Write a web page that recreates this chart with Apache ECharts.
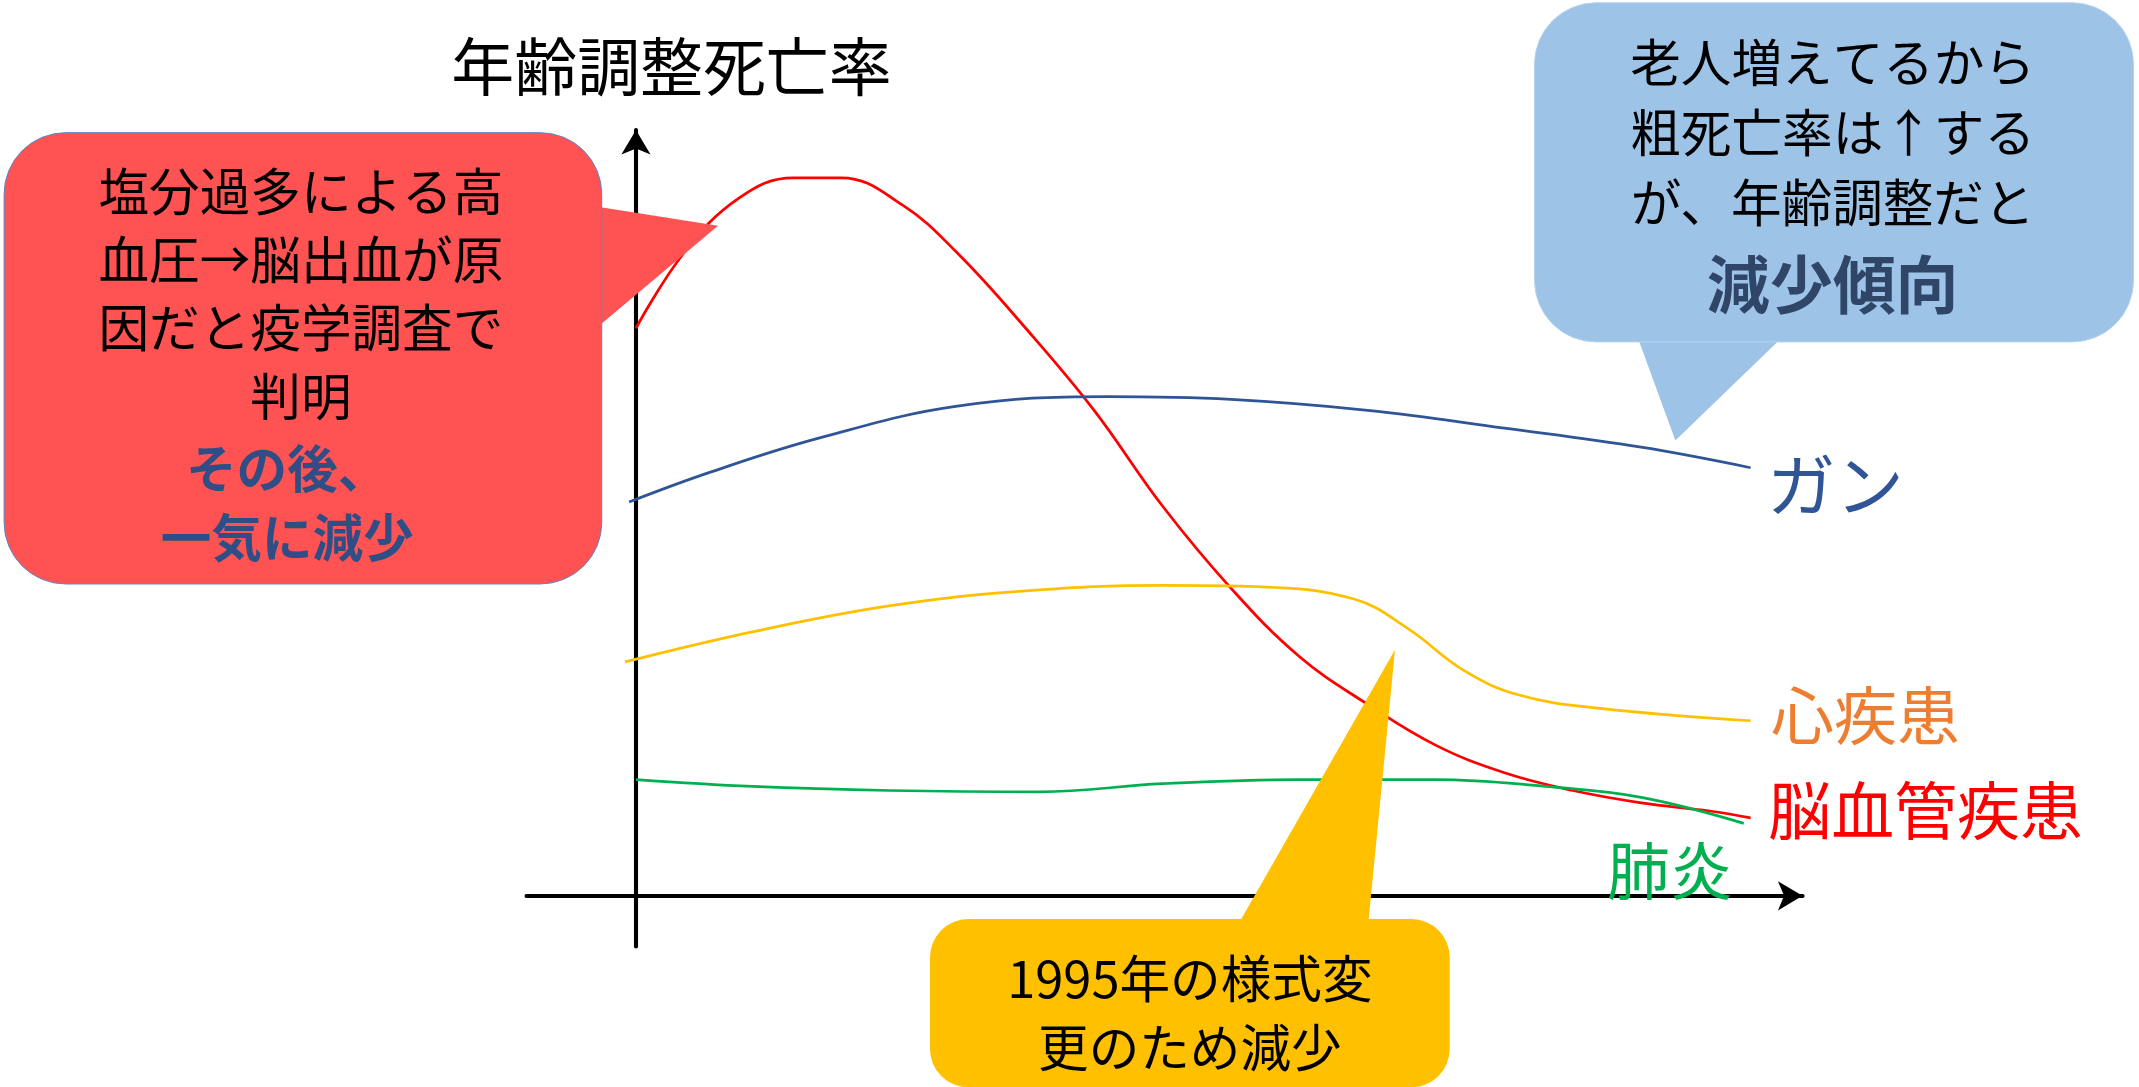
<!DOCTYPE html>
<html><head><meta charset="utf-8">
<script src="https://cdn.jsdelivr.net/npm/echarts@6/dist/echarts.min.js"></script>
<style>html,body{margin:0;padding:0;background:#fff}#c{width:2139px;height:1087px}</style>
</head><body><div id="c"></div>
<script>
// values: [x, y] in chart units (x: time from y-axis, y: rate from x-axis)
const cerebro = [[0,415],[35,470],[75,510],[115,525],[150,525],[195,505],[235,470],[285,415],[335,355],[385,285],[435,225],[485,175],[535,140],[585,110],[635,90],[685,77],[735,68],[785,62],[815,57]];
const cancer = [[-5,288],[55,310],[135,335],[235,358],[345,365],[435,363],[535,355],[635,342],[735,328],[815,313]];
const heart = [[-8,171],[85,193],[185,212],[285,223],[385,227],[455,226],[525,217],[565,195],[605,165],[645,147],[705,137],[815,128]];
const pneumonia = [[0,85],[85,80],[185,77],[295,76],[385,82],[485,85],[585,85],[665,80],[735,72],[810,53]];
const seriesNames = ['脳血管疾患','ガン','心疾患','肺炎'];
const yTitle = '年齢調整死亡率';
const redNote = ['塩分過多による高','血圧→脳出血が原','因だと疫学調査で','判明'];
const redNoteBold = ['その後、','一気に減少'];
const blueNote = ['老人増えてるから','粗死亡率は↑する','が、年齢調整だと'];
const blueNoteBold = '減少傾向';
const yellowNote = ['1995年の様式変','更のため減少'];

const K = 2139/1564;
const S = v => v*K;
const FF = '"Noto Sans CJK JP", "Noto Sans", sans-serif';
const chart = echarts.init(document.getElementById('c'));
function txt(x,y,t,size,color,weight,align){return {type:'text',z:20,style:{x:S(x),y:S(y),text:t,font:(weight||'normal')+' '+S(size)+'px '+FF,fill:color,textAlign:align||'center',textVerticalAlign:'middle'}};}
const g = [];
// red callout
g.push({type:'polygon',z:10,shape:{points:[[S(430),S(150)],[S(525),S(165)],[S(430),S(245)]]},style:{fill:'#FF5353'}});
g.push({type:'rect',z:10,shape:{x:S(3),y:S(97),width:S(437),height:S(330),r:S(45)},style:{fill:'#FF5353',stroke:'#5b86c5',lineWidth:1}});
redNote.forEach((t,i)=>g.push(txt(220,140+i*50,t,37,'#000')));
redNoteBold.forEach((t,i)=>g.push(txt(210,343+i*50,t,37,'#2F4E86','bold')));
// blue callout
g.push({type:'polygon',z:10,shape:{points:[[S(1195),S(240)],[S(1225),S(322)],[S(1310),S(240)]]},style:{fill:'#9DC3E6'}});
g.push({type:'rect',z:10,shape:{x:S(1122),y:S(2),width:S(438),height:S(248),r:S(45)},style:{fill:'#9DC3E6',stroke:'#b7d2ee',lineWidth:1}});
blueNote.forEach((t,i)=>g.push(txt(1340,46+i*51,t,37,'#000')));
g.push(txt(1340,208,blueNoteBold,46,'#2F4668','bold'));
// yellow callout
g.push({type:'polygon',z:10,shape:{points:[[S(903),S(680)],[S(1020),S(475)],[S(1000),S(680)]]},style:{fill:'#FFC000'}});
g.push({type:'rect',z:10,shape:{x:S(680),y:S(672),width:S(380),height:S(123),r:S(28)},style:{fill:'#FFC000'}});
yellowNote.forEach((t,i)=>g.push(txt(870,716+i*50,t,37,'#000')));
// title and series labels
g.push(txt(330,48,yTitle,46,'#000','normal','left'));
g.push(txt(1292,355,seriesNames[1],50,'#2F5597','normal','left'));
g.push(txt(1295,523,seriesNames[2],46,'#ED7D31','normal','left'));
g.push(txt(1293,592,seriesNames[0],46,'#FF0000','normal','left'));
g.push(txt(1175,636,seriesNames[3],46,'#00B050','normal','left'));

function ser(name,data,color){return {name,type:'line',data,smooth:0.4,symbol:'none',z:5,lineStyle:{color,width:S(2)}};}
chart.setOption({
  animation:false,
  grid:{left:S(385),right:2139-S(1318),top:S(95),bottom:1087-S(692)},
  xAxis:{type:'value',min:-80,max:853,axisLine:{onZero:true,lineStyle:{color:'#000',width:S(3)},symbol:['none','arrow'],symbolSize:[S(16),S(18)]},axisTick:{show:false},axisLabel:{show:false},splitLine:{show:false}},
  yAxis:{type:'value',min:-37,max:560,axisLine:{show:true,onZero:true,lineStyle:{color:'#000',width:S(3)},symbol:['none','arrow'],symbolSize:[S(16),S(18)]},axisTick:{show:false},axisLabel:{show:false},splitLine:{show:false}},
  series:[ser(seriesNames[0],cerebro,'#FF0000'),ser(seriesNames[1],cancer,'#2F5597'),ser(seriesNames[2],heart,'#FFC000'),ser(seriesNames[3],pneumonia,'#00B050')],
  graphic:g
});
</script></body></html>
